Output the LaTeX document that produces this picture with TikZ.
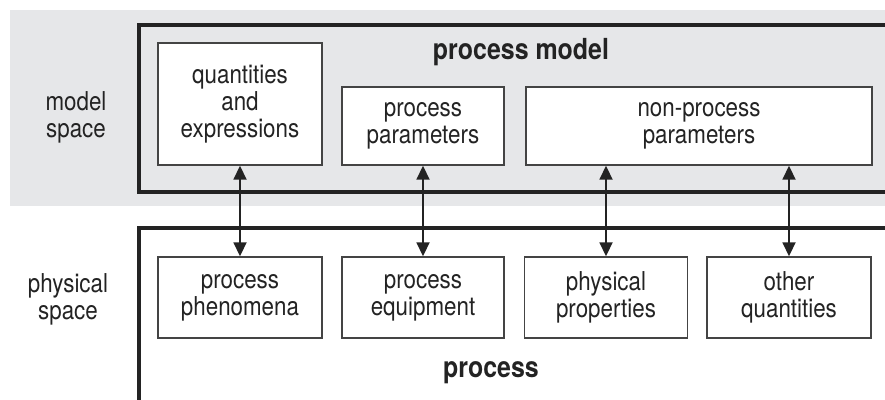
\documentclass[tikz,border=0pt]{standalone}
\usepackage{fontspec}
\setmainfont{TeX Gyre Heros}[FakeStretch=0.86]
\usetikzlibrary{arrows.meta}
\definecolor{bandgray}{RGB}{230,231,233}
\definecolor{ink}{RGB}{35,35,35}
\tikzset{
  item/.style={draw=ink!85, line width=1.4pt, fill=white, align=center,
    inner sep=0pt, font=\fontsize{26}{27}\selectfont, text=ink},
  frame/.style={draw=ink, line width=4pt},
  title/.style={font=\fontsize{29}{30}\selectfont\bfseries, text=ink},
  side/.style={align=center, font=\fontsize{26}{27}\selectfont, text=ink},
  link/.style={draw=ink, line width=1.8pt, {Triangle[length=14pt,width=13pt]}-{Triangle[length=14pt,width=13pt]}}
}
\begin{document}
\begin{tikzpicture}[x=1pt,y=-1pt]
\useasboundingbox (0,0) rectangle (885,399);
\clip (0,0) rectangle (885,399);
% model space band
\fill[bandgray] (10,10) rectangle (890,206);
% outer frames
\draw[frame] (139,25) rectangle (900,192);
\draw[frame] (139,228) rectangle (900,420);
\node[title] (pm) at (521,52) {process model};
\node[title] (pr) at (491,373) {process};
% side labels
\node[side] (ms) at (76,117) {model\\space};
\node[side] (ps) at (68,299) {physical\\space};
% model boxes
\node[item, minimum width=164pt, minimum height=122pt] (qe) at (240,104) {quantities\\and\\expressions};
\node[item, minimum width=162pt, minimum height=78pt] (pp) at (423,126) {process\\parameters};
\node[item, minimum width=346pt, minimum height=78pt] (np) at (699,126) {non-process\\parameters};
% physical boxes
\node[item, minimum width=164pt, minimum height=81pt] (ph) at (240,297.5) {process\\phenomena};
\node[item, minimum width=162pt, minimum height=81pt] (eq) at (423,297.5) {process\\equipment};
\node[item, minimum width=163pt, minimum height=81pt] (pq) at (606,297.5) {physical\\properties};
\node[item, minimum width=164pt, minimum height=81pt] (oq) at (789,297.5) {other\\quantities};
% links between the two spaces
\draw[link] (qe.south) -- (ph.north);
\draw[link] (pp.south) -- (eq.north);
\draw[link] (np.south -| pq.north) -- (pq.north);
\draw[link] (np.south -| oq.north) -- (oq.north);
\end{tikzpicture}
\end{document}
